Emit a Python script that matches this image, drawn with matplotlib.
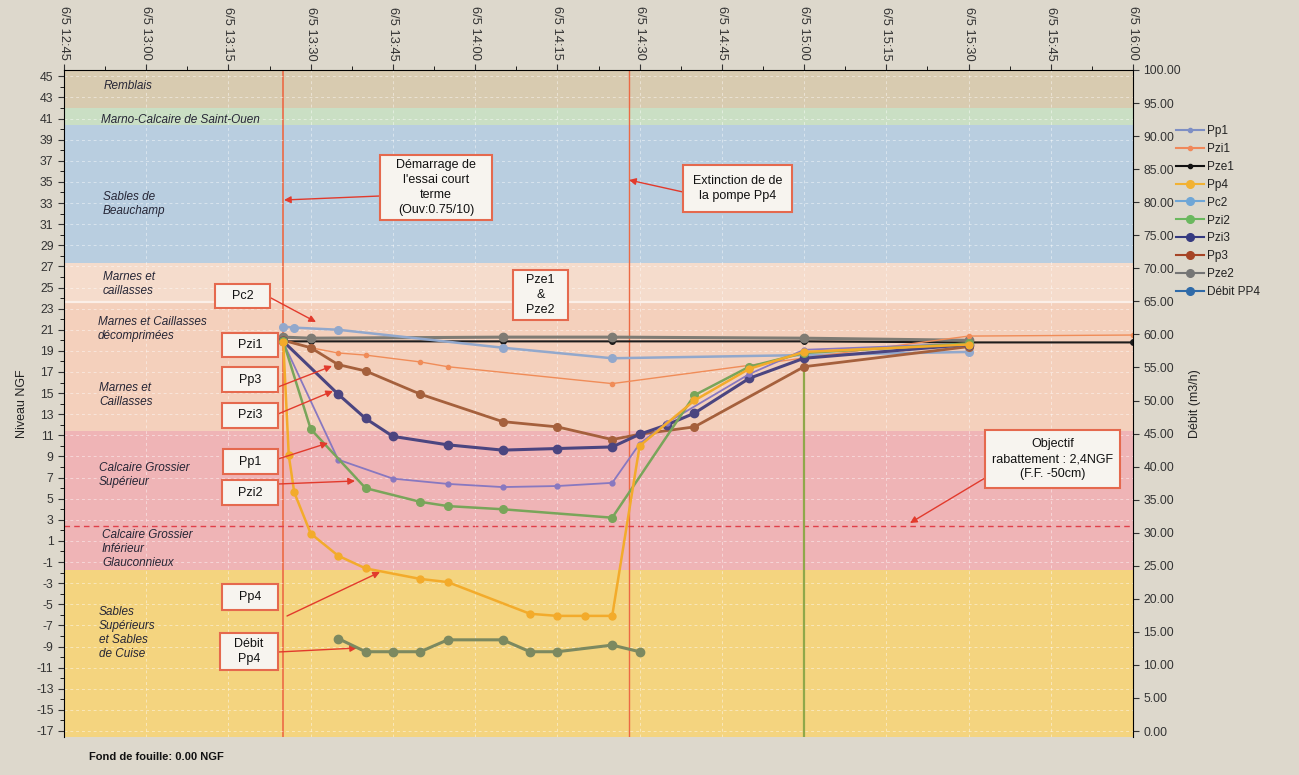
import matplotlib
matplotlib.use('Agg')
import matplotlib.pyplot as plt
import matplotlib.dates as mdates
from matplotlib.lines import Line2D
from matplotlib.patches import Rectangle
from matplotlib.ticker import FixedLocator, FuncFormatter, MultipleLocator
from datetime import datetime
import numpy as np

plt.rcParams['font.family'] = ['Liberation Sans', 'DejaVu Sans']
plt.rcParams['axes.unicode_minus'] = False

# ---------------- data ----------------
pp1_t = ["13:25", "13:35", "13:45", "13:55", "14:05", "14:15", "14:25", "14:30", "14:35", "14:50", "15:00", "15:30"]
pp1_v = [19.8, 8.7, 6.9, 6.4, 6.1, 6.2, 6.5, 10.2, 12.2, 16.8, 19.1, 19.7]

pzi1_t = ["13:25", "13:30", "13:35", "13:40", "13:50", "13:55", "14:25", "15:30", "16:00"]
pzi1_v = [20.0, 19.3, 18.8, 18.6, 17.95, 17.5, 15.9, 20.4, 20.5]

pze1_t = ["13:25", "13:30", "14:05", "14:25", "15:00", "15:30", "16:00"]
pze1_v = [19.9, 19.9, 19.9, 19.9, 19.9, 19.8, 19.8]

pp4_t = ["13:25", "13:26", "13:27", "13:30", "13:35", "13:40", "13:50", "13:55", "14:10", "14:15", "14:20", "14:25",
         "14:30", "14:40", "14:50", "15:00", "15:30"]
pp4_v = [19.8, 9.1, 5.6, 1.7, -0.4, -1.6, -2.6, -2.9, -5.9, -6.1, -6.1, -6.1, 10.0, 14.3, 17.3, 18.9, 19.6]

pc2_t = ["13:25", "13:27", "13:35", "14:05", "14:25", "15:00", "15:30"]
pc2_v = [21.3, 21.2, 21.0, 19.3, 18.3, 18.6, 18.9]

pzi2_t = ["13:25", "13:30", "13:40", "13:50", "13:55", "14:05", "14:25", "14:40", "14:50", "15:00", "15:30"]
pzi2_v = [19.9, 11.6, 6.0, 4.7, 4.3, 4.0, 3.2, 14.8, 17.5, 18.8, 19.7]

pzi3_t = ["13:25", "13:35", "13:40", "13:45", "13:55", "14:05", "14:15", "14:25", "14:30", "14:35", "14:40",
          "14:50", "15:00", "15:30"]
pzi3_v = [19.9, 14.9, 12.6, 10.9, 10.1, 9.6, 9.75, 9.9, 11.1, 12.0, 13.1, 16.4, 18.3, 19.6]

pp3_t = ["13:25", "13:30", "13:35", "13:40", "13:50", "14:05", "14:15", "14:25", "14:30", "14:40", "15:00", "15:30"]
pp3_v = [20.0, 19.3, 17.7, 17.1, 14.9, 12.3, 11.8, 10.6, 11.1, 11.8, 17.5, 19.4]

pze2_t = ["13:25", "13:30", "14:05", "14:25", "15:00", "15:30"]
pze2_v = [20.3, 20.2, 20.3, 20.3, 20.2, 20.0]

debit_t = ["13:35", "13:40", "13:45", "13:50", "13:55", "14:05", "14:10", "14:15", "14:25", "14:30"]
debit_v = [14.0, 12.0, 12.0, 12.0, 13.8, 13.8, 12.0, 12.0, 13.0, 12.0]

verticale_t = ["15:00", "15:00"]
verticale_v = [18.8, -17.6]

demarrage_t = "13:25"
extinction_t = "14:28"
objectif_ngf = 2.4

niveau_ticks = list(range(-17, 46, 2))
debit_ticks = list(range(0, 101, 5))

couches_bas = [42.0, 40.4, 27.35, 23.6, 11.4, -1.8, -17.6]
couches_haut = [45.6, 42.0, 40.4, 27.35, 23.6, 11.4, -1.8]
couches_col = ['#d8cbb0', '#cadfc4', '#b9cee0', '#f5dccc', '#f4d0bc', '#efb4b6', '#f4d47f']

couches_noms = ["Remblais", "Marno-Calcaire de Saint-Ouen", "Sables de\nBeauchamp", "Marnes et\ncaillasses",
                "Marnes et Caillasses\ndécomprimées", "Marnes et\nCaillasses", "Calcaire Grossier\nSupérieur",
                "Calcaire Grossier\nInférieur\nGlauconnieux", "Sables\nSupérieurs\net Sables\nde Cuise"]

# ---------------- helpers ----------------
def t(hm):
    h, m = map(int, hm.split(':'))
    return mdates.date2num(datetime(2021, 6, 5, h, m))

def ts(lst):
    return [t(s) for s in lst]

W, H = 1299, 775
L, R, T, B = 64, 1133, 70, 737

fig = plt.figure(figsize=(W / 100, H / 100), dpi=100, facecolor='#ddd8cc')
ax = fig.add_axes([L / W, 1 - B / H, (R - L) / W, (B - T) / H])
ax.set_facecolor('#ddd8cc')

x0, x1 = t("12:45"), t("16:00")
ax.set_xlim(x0, x1)
ax.set_ylim(-17.57, 45.6)

# bands
for lo, hi, c in zip(couches_bas, couches_haut, couches_col):
    ax.axhspan(lo, hi, color=c, lw=0, zorder=0)
ax.axhline(23.6, color='#fbefe8', lw=1.6, zorder=0.5)

# grid
ax.grid(True, which='major', axis='both', color='white', alpha=0.45, ls=(0, (3, 3)), lw=0.7, zorder=0.6)

# reference lines
ax.axvline(t(demarrage_t), color='#ec6a45', lw=1.2, zorder=1)
ax.axvline(t(extinction_t), color='#ec6a45', lw=1.0, zorder=1)
ax.axhline(objectif_ngf, color='#e0404a', lw=1.0, ls=(0, (4, 3)), zorder=1)

# series
ax.plot(ts(verticale_t), verticale_v, color='#8fa84a', lw=1.6, zorder=2)
ax.plot(ts(pze1_t), pze1_v, color='#1c1c1c', lw=1.5, marker='o', ms=4, zorder=3)
ax.plot(ts(pze2_t), pze2_v, color='#7e7b74', lw=2.2, marker='o', ms=6, zorder=3)
ax.plot(ts(pc2_t), pc2_v, color='#92a8cc', lw=1.8, marker='o', ms=5.5, zorder=3)
ax.plot(ts(pzi1_t), pzi1_v, color='#f08c58', lw=1.0, marker='o', ms=3, zorder=3)
ax.plot(ts(pp3_t), pp3_v, color='#a5603c', lw=2.0, marker='o', ms=5.5, zorder=3)
ax.plot(ts(pzi3_t), pzi3_v, color='#4b4580', lw=2.2, marker='o', ms=6, zorder=3)
ax.plot(ts(pp1_t), pp1_v, color='#8878c0', lw=1.3, marker='o', ms=3.5, zorder=3)
ax.plot(ts(pzi2_t), pzi2_v, color='#79a55a', lw=1.8, marker='o', ms=5.5, zorder=3)
ax.plot(ts(pp4_t), pp4_v, color='#f3ab2b', lw=1.8, marker='o', ms=5, zorder=3)

# x axis on top
ax.xaxis.tick_top()
maj = np.arange(x0, x1 + 1e-6, 15 / 1440)
mnr = np.arange(x0 + 7.5 / 1440, x1, 15 / 1440)
ax.xaxis.set_major_locator(FixedLocator(maj))
ax.xaxis.set_minor_locator(FixedLocator(mnr))
ax.xaxis.set_major_formatter(FuncFormatter(
    lambda v, p: (lambda d: f"{d.month}/{d.day} {d:%H:%M}")(mdates.num2date(v))))
ax.tick_params(axis='x', which='major', top=True, bottom=False, labeltop=True, labelbottom=False,
               labelrotation=-90, labelsize=9.3, length=4, pad=3, colors='#333333')
ax.tick_params(axis='x', which='minor', top=True, bottom=False, length=3)

ax.yaxis.set_major_locator(FixedLocator(niveau_ticks))
ax.yaxis.set_minor_locator(MultipleLocator(1))
ax.tick_params(axis='y', which='major', labelsize=8.8, length=4, colors='#333333')
ax.tick_params(axis='y', which='minor', length=3)
ax.set_ylabel("Niveau NGF", fontsize=9, color='#222222', labelpad=6)
ax.spines['bottom'].set_visible(False)
ax.spines['right'].set_visible(False)

ax2 = ax.twinx()
ax2.set_ylim(-0.9, 100)
ax2.plot(ts(debit_t), debit_v, color='#7c8960', lw=2.2, marker='o', ms=6, zorder=3)
ax2.yaxis.set_major_locator(FixedLocator(debit_ticks))
ax2.yaxis.set_major_formatter(FuncFormatter(lambda v, p: f"{v:.2f}"))
ax2.tick_params(axis='y', labelsize=8.8, length=4, colors='#333333')
ax2.set_ylabel("Débit (m3/h)", fontsize=9, color='#222222', labelpad=6)
for s in ['top', 'bottom', 'left']:
    ax2.spines[s].set_visible(False)

# layer labels
lab_pos = [(104, 86), (101, 120), (103, 204), (103, 284), (98, 329), (99, 395), (99, 475), (102, 549), (99, 633)]
for txt, (px, py) in zip(couches_noms, lab_pos):
    fig.text(px / W, 1 - py / H, txt, fontsize=8.5, style='italic', color='#262636',
             ha='left', va='center', linespacing=1.25)

# annotation boxes
boxes = [
    ("Démarrage de\nl'essai court\nterme\n(Ouv:0.75/10)", 380, 155, 492, 220),
    ("Extinction de de\nla pompe Pp4", 683, 165, 792, 212),
    ("Pze1\n&\nPze2", 513, 270, 568, 320),
    ("Pc2", 215, 284, 270, 308),
    ("Pzi1", 222, 333, 278, 357),
    ("Pp3", 222, 367, 278, 392),
    ("Pzi3", 222, 403, 278, 428),
    ("Pp1", 223, 449, 278, 474),
    ("Pzi2", 222, 480, 278, 505),
    ("Pp4", 222, 584, 278, 610),
    ("Débit\nPp4", 220, 633, 278, 670),
    ("Objectif\nrabattement : 2,4NGF\n(F.F. -50cm)", 985, 430, 1120, 488),
]
for txt, bx0, by0, bx1, by1 in boxes:
    fig.add_artist(Rectangle((bx0 / W, 1 - by1 / H), (bx1 - bx0) / W, (by1 - by0) / H,
                             transform=fig.transFigure, facecolor='#f7f4ef', edgecolor='#e5694e',
                             lw=1.5, zorder=5))
    fig.text((bx0 + bx1) / 2 / W, 1 - (by0 + by1) / 2 / H, txt, ha='center', va='center',
             fontsize=9, color='#111111', zorder=6, linespacing=1.3)

arrows = [
    ((380, 196), (284, 200)),
    ((683, 192), (629, 180)),
    ((271, 298), (316, 322)),
    ((278, 387), (332, 366)),
    ((278, 414), (333, 391)),
    ((278, 459), (328, 443)),
    ((278, 484), (355, 481)),
    ((287, 616), (380, 572)),
    ((278, 652), (357, 648)),
    ((985, 478), (910, 523)),
]
for (tx, ty), (hx, hy) in arrows:
    ax.annotate('', xy=(hx, H - hy), xycoords='figure pixels', xytext=(tx, H - ty),
                textcoords='figure pixels',
                arrowprops=dict(arrowstyle='-|>', color='#e23a2c', lw=1.0, mutation_scale=10,
                                shrinkA=0, shrinkB=0), zorder=6)

fig.text(89 / W, 1 - 757 / H, "Fond de fouille: 0.00 NGF", fontsize=8, fontweight='bold',
         color='#111111', ha='left', va='center')

# legend
leg_items = [
    ("Pp1", '#7e8fc4', 3), ("Pzi1", '#f0885a', 3), ("Pze1", '#111111', 3), ("Pp4", '#f2b233', 5.5),
    ("Pc2", '#6fa6d6', 5.5), ("Pzi2", '#6ab85e', 5.5), ("Pzi3", '#353a80', 5.5), ("Pp3", '#a64426', 5.5),
    ("Pze2", '#757575', 5.5), ("Débit PP4", '#2f6aa8', 5.5),
]
handles = [Line2D([0], [0], color=c, lw=1.5, marker='o', ms=ms) for _, c, ms in leg_items]
fig.legend(handles, [n for n, _, _ in leg_items], loc='upper left',
           bbox_to_anchor=(1176 / W, 1 - 125 / H), frameon=False, fontsize=8.5,
           handlelength=2.4, handletextpad=0.2, labelspacing=0.5, borderpad=0, borderaxespad=0,
           labelcolor='#222222')

fig.savefig('out.png', dpi=100, facecolor=fig.get_facecolor())
